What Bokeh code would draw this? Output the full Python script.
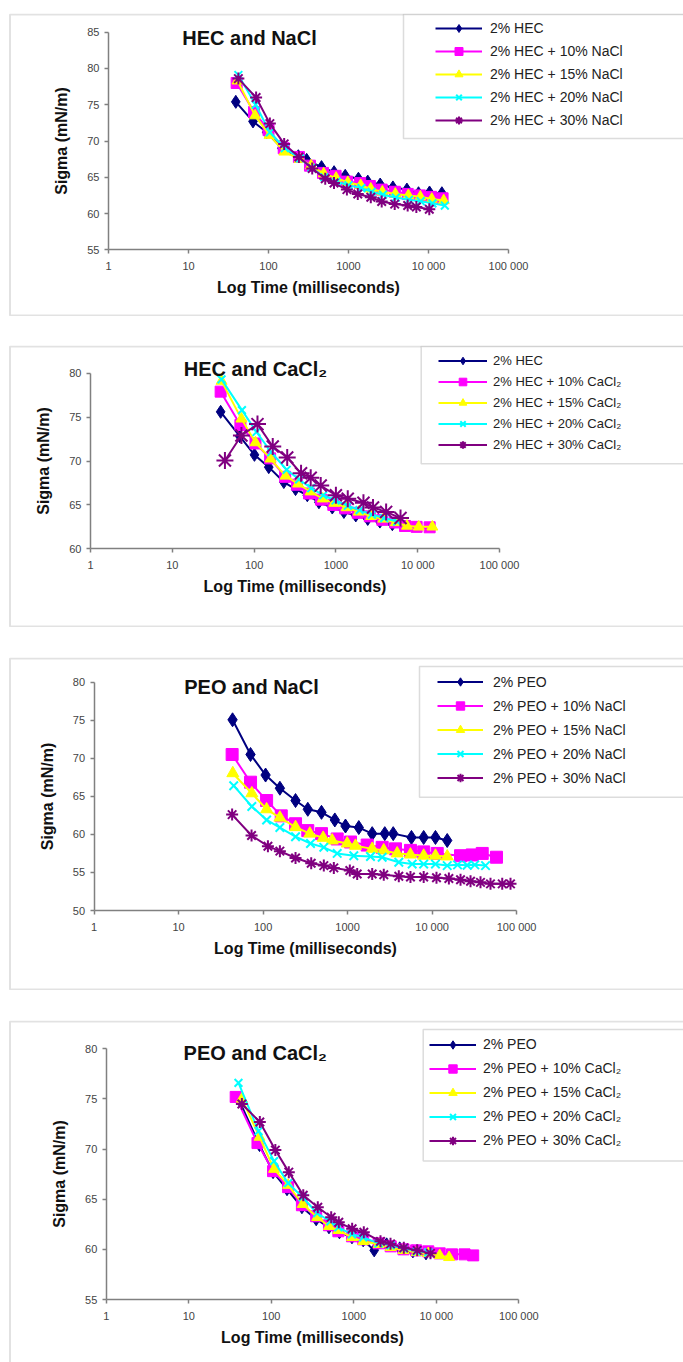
from bokeh.plotting import figure
from bokeh.models import (Range1d, FixedTicker, Legend, LegendItem, BoxAnnotation,
                          Label, Spacer, ColumnDataSource)
from bokeh.layouts import column
from bokeh.embed import file_html
from bokeh.resources import INLINE
import math

FONT = "Liberation Sans"

# ---------------- shared axis data ----------------
x_ticks = [1, 10, 100, 1000, 10000, 100000]
x_tick_labels = ["1", "10", "100", "1000", "10 000", "100 000"]
series_colors = ["#000080", "#FF00FF", "#FFFF00", "#00FFFF", "#800080"]
series_markers = ["diamond", "square", "triangle", "x", "asterisk"]

# ---------------- Panel 1: HEC and NaCl ----------------
p1_title = "HEC and NaCl"
p1_labels = ["2% HEC", "2% HEC + 10% NaCl", "2% HEC + 15% NaCl",
             "2% HEC + 20% NaCl", "2% HEC + 30% NaCl"]
p1_yticks = [55, 60, 65, 70, 75, 80, 85]
p1_t_hec = [39, 64, 95, 147, 236, 300, 460, 660, 910, 1330, 1740, 2490, 3590, 5370, 7500, 10300, 14700]
p1_s_hec = [75.4, 72.7, 71.2, 69.0, 67.9, 67.4, 66.4, 65.7, 65.2, 64.8, 64.4, 64.0, 63.6, 63.3, 62.8, 62.9, 62.8]
p1_t_10 = [40, 66, 100, 155, 240, 330, 480, 690, 960, 1400, 1850, 2600, 3800, 5500, 7800, 10800, 15000]
p1_s_10 = [78.0, 74.0, 71.5, 69.0, 67.8, 66.6, 65.6, 65.2, 64.4, 64.2, 63.8, 63.3, 63.0, 62.7, 62.5, 62.3, 62.1]
p1_t_15 = [41, 68, 103, 158, 245, 340, 490, 700, 980, 1420, 1900, 2650, 3850, 5600, 7900, 11000, 15500]
p1_s_15 = [78.3, 73.5, 70.8, 68.5, 67.5, 66.6, 65.5, 64.9, 64.3, 63.9, 63.4, 63.0, 62.7, 62.5, 62.3, 62.0, 61.8]
p1_t_20 = [42, 69, 104, 160, 248, 345, 500, 710, 1000, 1450, 1950, 2700, 3900, 5700, 8000, 11200, 16000]
p1_s_20 = [79.1, 75.0, 71.2, 69.0, 67.6, 66.3, 65.0, 64.4, 63.9, 63.5, 63.0, 62.6, 62.2, 61.9, 61.7, 61.4, 61.1]
p1_t_30 = [42, 70, 104, 157, 240, 352, 512, 659, 955, 1306, 1900, 2600, 3780, 5490, 7050, 10230]
p1_s_30 = [78.6, 76.0, 72.4, 69.6, 67.8, 66.2, 64.8, 64.2, 63.3, 62.7, 62.25, 61.65, 61.3, 61.1, 60.9, 60.6]

# ---------------- Panel 2: HEC and CaCl2 ----------------
p2_title = "HEC and CaCl₂"
p2_labels = ["2% HEC", "2% HEC + 10% CaCl₂", "2% HEC + 15% CaCl₂",
             "2% HEC + 20% CaCl₂", "2% HEC + 30% CaCl₂"]
p2_yticks = [60, 65, 70, 75, 80]
p2_t_hec = [39, 67, 101, 151, 231, 321, 447, 620, 903, 1253, 1750, 2450, 3450, 4900]
p2_s_hec = [75.6, 72.8, 70.7, 69.3, 67.6, 66.8, 66.1, 65.3, 64.7, 64.2, 63.8, 63.4, 63.1, 62.8]
p2_t_10 = [39, 68, 104, 157, 240, 335, 470, 660, 930, 1300, 1850, 2600, 3700, 5300, 7000, 9700, 14000]
p2_s_10 = [77.9, 74.1, 72.0, 70.3, 68.2, 67.3, 66.3, 65.6, 65.0, 64.6, 64.1, 63.7, 63.3, 63.0, 62.6, 62.5, 62.45]
p2_t_15 = [40, 70, 104, 159, 242, 345, 490, 690, 960, 1350, 1900, 2700, 3800, 5400, 7400, 10300, 15100]
p2_s_15 = [79.1, 74.8, 72.1, 70.25, 68.3, 67.4, 66.5, 65.7, 65.2, 64.7, 64.2, 63.7, 63.4, 63.0, 62.6, 62.5, 62.5]
p2_t_20 = [40, 71, 107, 162, 250, 355, 500, 700, 990, 1400, 1950, 2750, 3900, 5600]
p2_s_20 = [79.3, 75.8, 73.3, 71.0, 69.0, 67.9, 66.9, 66.1, 65.5, 64.9, 64.4, 63.9, 63.5, 63.1]
p2_t_30 = [44, 70, 110, 169, 254, 375, 492, 652, 1000, 1396, 2172, 2844, 4112, 6166]
p2_s_30 = [70.05, 72.9, 74.2, 71.65, 70.4, 68.6, 68.1, 67.2, 66.1, 65.7, 65.25, 64.7, 64.2, 63.5]

# ---------------- Panel 3: PEO and NaCl ----------------
p3_title = "PEO and NaCl"
p3_labels = ["2% PEO", "2% PEO + 10% NaCl", "2% PEO + 15% NaCl",
             "2% PEO + 20% NaCl", "2% PEO + 30% NaCl"]
p3_yticks = [50, 55, 60, 65, 70, 75, 80]
p3_t_peo = [43.5, 71, 107, 158, 242, 338, 491, 706, 944, 1357, 1955, 2755, 3467, 5700, 7950, 10960, 15100]
p3_s_peo = [75.06, 70.5, 67.8, 66.07, 64.45, 63.3, 62.9, 61.9, 61.1, 60.9, 60.1, 60.1, 60.1, 59.6, 59.6, 59.6, 59.2]
p3_t_10 = [43, 71, 110, 164, 242, 338, 491, 753, 1083, 1706, 2566, 3688, 5546, 7950, 11500, 21700, 29800, 39200, 57800]
p3_s_10 = [70.5, 66.86, 64.45, 62.44, 61.4, 60.5, 60.1, 59.4, 59.0, 58.6, 58.3, 58.1, 57.9, 57.7, 57.5, 57.2, 57.3, 57.5, 57.0]
p3_t_15 = [43.8, 73.5, 110, 158, 242, 357, 514, 657, 989, 1240, 1955, 2680, 3860, 5546, 7950, 10960, 15100]
p3_s_15 = [68.04, 65.4, 63.3, 62.2, 60.95, 60.1, 59.55, 59.2, 58.8, 58.5, 58.1, 57.9, 57.5, 57.35, 57.2, 57.2, 57.1]
p3_t_20 = [44.9, 73.5, 110, 158, 242, 364, 523, 753, 1184, 1866, 2566, 4036, 5810, 7950, 10960, 15100, 20000, 26000, 32000, 42900]
p3_s_20 = [66.4, 63.67, 61.9, 60.9, 59.7, 58.8, 58.3, 57.5, 57.2, 57.1, 57.0, 56.35, 56.1, 56.1, 56.1, 55.9, 56.0, 55.95, 56.0, 55.9]
p3_t_30 = [43, 73, 114, 158, 242, 371, 523, 687, 1062, 1299, 1955, 2680, 4036, 5546, 7950, 11270, 15800, 21700, 28500, 37400, 49100, 67600, 84700]
p3_s_30 = [62.6, 59.85, 58.45, 57.8, 56.9, 56.2, 55.9, 55.6, 55.25, 54.8, 54.8, 54.7, 54.5, 54.4, 54.4, 54.3, 54.2, 54.05, 53.85, 53.7, 53.5, 53.5, 53.5]

# ---------------- Panel 4: PEO and CaCl2 ----------------
p4_title = "PEO and CaCl₂"
p4_labels = ["2% PEO", "2% PEO + 10% CaCl₂", "2% PEO + 15% CaCl₂",
             "2% PEO + 20% CaCl₂", "2% PEO + 30% CaCl₂"]
p4_yticks = [55, 60, 65, 70, 75, 80]
p4_t_peo = [40, 72, 105, 155, 235, 350, 500, 670, 950, 1300, 1767, 2500, 3600, 5200, 7500]
p4_s_peo = [75.0, 70.4, 67.7, 66.0, 64.2, 63.0, 62.2, 61.7, 61.2, 60.9, 59.9, 60.5, 60.1, 59.8, 59.6]
p4_t_10 = [37, 68, 105, 160, 235, 350, 500, 650, 950, 1300, 2000, 2800, 4000, 5700, 8000, 11000, 15500, 22000, 28000]
p4_s_10 = [75.2, 70.6, 67.8, 66.2, 64.4, 63.3, 62.4, 61.8, 61.3, 61.0, 60.6, 60.3, 60.0, 59.9, 59.8, 59.6, 59.5, 59.5, 59.4]
p4_t_15 = [44, 72, 108, 160, 240, 360, 500, 650, 950, 1300, 2000, 2800, 4000, 5800, 8000, 11000, 14300]
p4_s_15 = [75.0, 71.2, 68.0, 66.4, 64.5, 63.2, 62.3, 61.9, 61.2, 60.8, 60.5, 60.2, 59.9, 59.7, 59.6, 59.4, 59.2]
p4_t_20 = [40, 70, 108, 160, 240, 360, 520, 650, 950, 1300, 2000, 2800, 4000, 5800, 8000]
p4_s_20 = [76.6, 71.8, 68.8, 66.6, 65.2, 63.6, 62.8, 62.2, 61.5, 61.2, 60.6, 60.4, 60.1, 59.8, 59.7]
p4_t_30 = [44, 72.6, 112, 163, 244, 366, 532, 658, 955, 1322, 2107, 2786, 4038, 5866, 8504]
p4_s_30 = [74.5, 72.7, 69.9, 67.7, 65.4, 64.2, 63.2, 62.7, 62.05, 61.7, 60.8, 60.55, 60.15, 59.9, 59.6]

W = 683  # figure width (Bokeh page has no body margin)


def build(title, labels, times, sigmas, yticks, g):
    top, H = g["fig_top"], g["fig_h"]
    # the frame covers the whole panel; the axes sit inside it at fixed locations
    dec = (g["frame_r"] - g["frame_l"]) / (len(x_ticks) - 1)
    l0 = math.log10(x_ticks[0]) - g["frame_l"] / dec
    l1 = math.log10(x_ticks[0]) + (W - g["frame_l"]) / dec
    k = (g["frame_b"] - g["frame_t"]) / (yticks[-1] - yticks[0])
    y0 = yticks[0] - (top + H - g["frame_b"]) / k
    y1 = yticks[-1] + (g["frame_t"] - top) / k

    def sx(px):
        return px

    def sy(py):
        return top + H - py

    p = figure(width=W, height=H, x_axis_type="log",
               x_range=Range1d(10 ** l0, 10 ** l1), y_range=Range1d(y0, y1),
               output_backend="svg", toolbar_location=None,
               min_border=0, min_border_left=0, min_border_right=0,
               min_border_top=0, min_border_bottom=0,
               background_fill_color="white", border_fill_color="white")
    p.outline_line_color = None
    p.xgrid.visible = False
    p.ygrid.visible = False

    # outer panel frame
    p.add_layout(BoxAnnotation(left=sx(9.5), right=sx(2000), top=sy(top + 1),
                               bottom=sy(g["box_bottom"]),
                               left_units="screen", right_units="screen",
                               top_units="screen", bottom_units="screen",
                               fill_alpha=0, line_color="#a0a0a0", line_width=2,
                               level="underlay"))

    items = []
    for lab, t, s, c, m in zip(labels, times, sigmas, series_colors, series_markers):
        src = ColumnDataSource(dict(t=t, s=s))
        r1 = p.line("t", "s", source=src, line_color=c, line_width=2)
        size = g["msize"]
        if m == "asterisk":
            size = g["asize"]
        elif m == "diamond":
            size = g["msize"] + 2
        r2 = p.scatter("t", "s", source=src, marker=m, size=size, fill_color=c,
                       line_color=c, line_width=2 if m in ("x", "asterisk") else 1)
        items.append(LegendItem(label=lab, renderers=[r1, r2]))

    for ax in (p.xaxis[0], p.yaxis[0]):
        ax.axis_line_color = "#808080"
        ax.axis_line_width = 1.5
        ax.major_tick_line_color = "#808080"
        ax.major_tick_line_width = 1.5
        ax.major_tick_in = 0
        ax.major_tick_out = 4
        ax.minor_tick_line_color = None
        ax.major_label_text_font = FONT
        ax.major_label_text_font_size = "11px"
        ax.major_label_text_color = "#444444"
        ax.axis_label_text_font = FONT
        ax.axis_label_text_font_size = "16px"
        ax.axis_label_text_font_style = "bold"
        ax.axis_label_text_color = "#111111"

    p.xaxis.fixed_location = yticks[0]
    p.xaxis.bounds = (x_ticks[0], x_ticks[-1])
    p.xaxis.ticker = FixedTicker(ticks=x_ticks, minor_ticks=[])
    p.xaxis.major_label_overrides = dict(zip(x_ticks, x_tick_labels))
    p.xaxis.axis_label = "Log Time (milliseconds)"
    p.xaxis.major_label_standoff = 6
    p.xaxis.axis_label_standoff = 4
    p.yaxis.fixed_location = x_ticks[0]
    p.yaxis.bounds = (yticks[0], yticks[-1])
    p.yaxis.ticker = FixedTicker(ticks=yticks, minor_ticks=[])
    p.yaxis.axis_label = "Sigma (mN/m)"
    p.yaxis.major_label_standoff = 5
    p.yaxis.axis_label_standoff = 14

    # legend box
    p.add_layout(BoxAnnotation(left=sx(g["leg_left"]), right=sx(2000),
                               top=sy(g["leg_top"] + 1), bottom=sy(g["leg_bottom"]),
                               left_units="screen", right_units="screen",
                               top_units="screen", bottom_units="screen",
                               fill_color="white", fill_alpha=1,
                               line_color="#8a8a8a", line_width=1.5))

    ih, sp = g["item_h"], g["spacing"]
    leg_h = 5 * ih + 4 * sp
    leg_top_px = g["item0"] - ih / 2
    leg = Legend(items=items,
                 location=(sx(g["line_start"]), sy(leg_top_px + leg_h)),
                 border_line_color=None, background_fill_alpha=0,
                 padding=0, margin=0, spacing=sp,
                 glyph_width=g["glyph_w"], glyph_height=ih, label_height=ih,
                 label_standoff=g["standoff"],
                 label_text_font=FONT, label_text_font_size=g["lfont"],
                 label_text_color="#222222")
    p.add_layout(leg)

    p.add_layout(Label(x=sx(g["title_x"]), y=sy(g["title_y"]),
                       x_units="screen", y_units="screen", text=title,
                       text_font=FONT, text_font_style="bold", text_font_size="20px",
                       text_align="center", text_baseline="middle", text_color="#111111"))
    return p


g1 = dict(fig_top=13, fig_h=303, box_bottom=315, frame_l=108, frame_r=508,
          frame_t=31.7, frame_b=249.3, leg_left=403, leg_top=13, leg_bottom=138,
          line_start=435, glyph_w=47, standoff=8, item0=27.7, item_h=20, spacing=3,
          title_x=249, title_y=37, lfont="14px", msize=11, asize=12)
g2 = dict(fig_top=345, fig_h=282, box_bottom=626, frame_l=90, frame_r=499,
          frame_t=372.7, frame_b=548.3, leg_left=420.7, leg_top=345, leg_bottom=463.3,
          line_start=438, glyph_w=49, standoff=6, item0=360.7, item_h=19, spacing=2,
          title_x=255, title_y=368.3, lfont="13px", msize=11, asize=17)
g3 = dict(fig_top=657, fig_h=333, box_bottom=989, frame_l=93.6, frame_r=516.1,
          frame_t=681.7, frame_b=910, leg_left=419, leg_top=665, leg_bottom=796.7,
          line_start=437, glyph_w=46, standoff=10, item0=681.7, item_h=21, spacing=3,
          title_x=251, title_y=686.7, lfont="14px", msize=12, asize=12)
g4 = dict(fig_top=1020, fig_h=342, box_bottom=1500, frame_l=105.8, frame_r=518.3,
          frame_t=1048.3, frame_b=1299, leg_left=422.7, leg_top=1028, leg_bottom=1160.5,
          line_start=429, glyph_w=47, standoff=7, item0=1044, item_h=21, spacing=3,
          title_x=254.8, title_y=1052.3, lfont="14px", msize=11, asize=12)

p1 = build(p1_title, p1_labels,
           [p1_t_hec, p1_t_10, p1_t_15, p1_t_20, p1_t_30],
           [p1_s_hec, p1_s_10, p1_s_15, p1_s_20, p1_s_30], p1_yticks, g1)
p2 = build(p2_title, p2_labels,
           [p2_t_hec, p2_t_10, p2_t_15, p2_t_20, p2_t_30],
           [p2_s_hec, p2_s_10, p2_s_15, p2_s_20, p2_s_30], p2_yticks, g2)
p3 = build(p3_title, p3_labels,
           [p3_t_peo, p3_t_10, p3_t_15, p3_t_20, p3_t_30],
           [p3_s_peo, p3_s_10, p3_s_15, p3_s_20, p3_s_30], p3_yticks, g3)
p4 = build(p4_title, p4_labels,
           [p4_t_peo, p4_t_10, p4_t_15, p4_t_20, p4_t_30],
           [p4_s_peo, p4_s_10, p4_s_15, p4_s_20, p4_s_30], p4_yticks, g4)

layout = column(Spacer(height=13, width=W), p1, Spacer(height=29, width=W), p2,
                Spacer(height=30, width=W), p3, Spacer(height=30, width=W), p4,
                spacing=0)

open("out.html", "w").write(file_html(layout, INLINE))
